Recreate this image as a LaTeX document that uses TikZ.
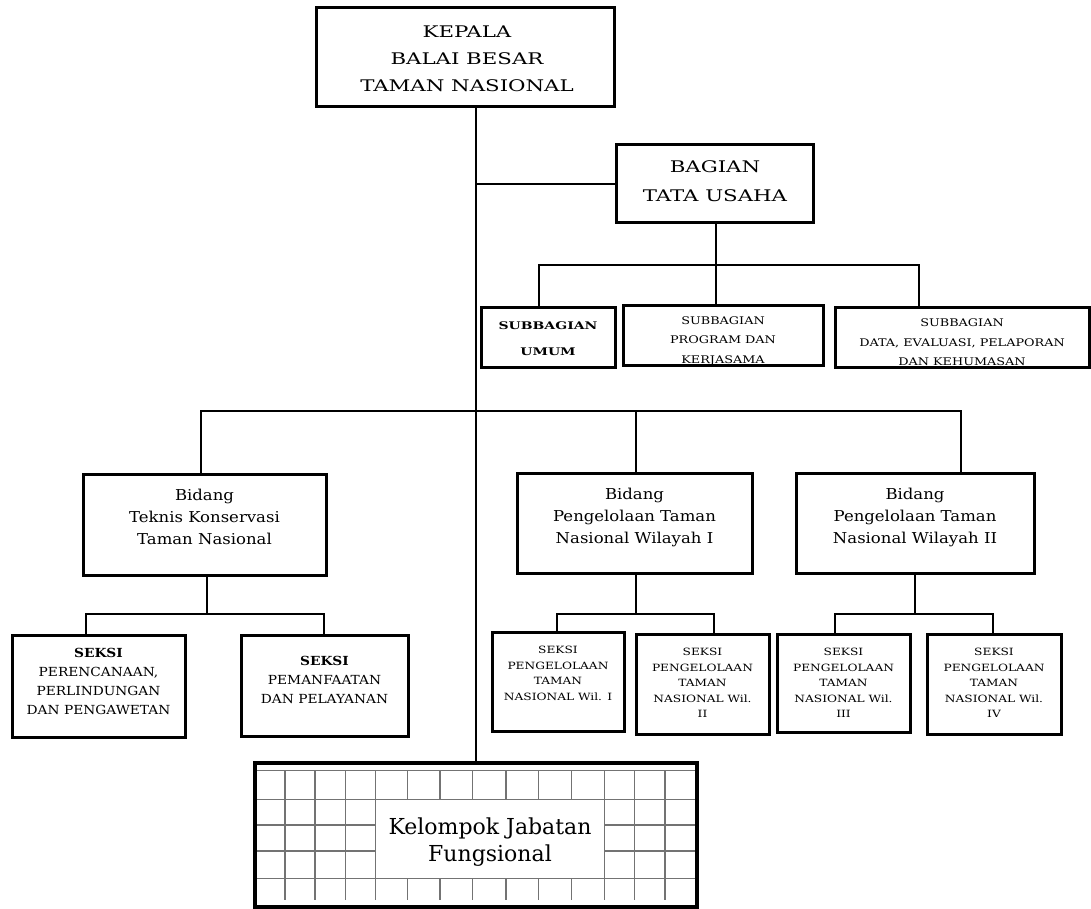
\documentclass[tikz,border=0pt]{standalone}
\usepackage{fontspec}
\setmainfont{DejaVu Serif}
\newfontfamily\fA{DejaVu Serif}[FakeStretch=1.33]
\newfontfamily\fB{DejaVu Serif}[FakeStretch=1.1]
\newfontfamily\fC{DejaVu Serif}[FakeStretch=1.22]
\begin{document}
\begin{tikzpicture}[x=1pt,y=-1pt,
  box/.style={draw, line width=3pt, inner sep=0pt},
  kelbox/.style={draw, line width=4.5pt, inner sep=0pt},
  conn/.style={line width=2.5pt},
  gridl/.style={line width=1.1pt, black!55},
  tx/.style={align=center, inner sep=0pt},
  big/.style={tx, font={\fA\fontsize{16}{27}\selectfont}},
  subb/.style={tx, font={\fC\fontsize{10.5}{19.5}\selectfont}},
  bid/.style={tx, anchor=north, font={\fB\fontsize{15}{22}\selectfont}},
  seks/.style={tx, anchor=north, font={\fB\fontsize{12.5}{19}\selectfont}},
  sekw/.style={tx, anchor=north, font={\fC\fontsize{10}{15.5}\selectfont}}]
\useasboundingbox (0,0) rectangle (1091,909);

% top
\node[box, minimum width=298, minimum height=99] (kepala) at (465,57.5) {};
\node[big] (kepT) at (467,59) {KEPALA\\BALAI BESAR\\TAMAN NASIONAL};
\node[box, minimum width=197, minimum height=78] (bagian) at (714.5,184) {};
\node[tx, font={\fA\fontsize{16}{28.4}\selectfont}] (bagT) at (715,181) {BAGIAN\\TATA USAHA};

% subbagian
\node[box, minimum width=134, minimum height=60] (umum) at (548,337) {};
\node[tx, font={\fA\bfseries\fontsize{10.5}{25.7}\selectfont}] (umT) at (548,339) {SUBBAGIAN\\UMUM};
\node[box, minimum width=200, minimum height=60] (prog) at (723,335) {};
\node[subb] (progT) at (723,341) {SUBBAGIAN\\PROGRAM DAN\\KERJASAMA};
\node[box, minimum width=254, minimum height=60] (data) at (962,337) {};
\node[subb] (dataT) at (962,342.5) {SUBBAGIAN\\DATA, EVALUASI, PELAPORAN\\DAN KEHUMASAN};

% bidang
\node[box, minimum width=243, minimum height=101] (teknis) at (204.5,524.5) {};
\node[bid] (tekT) at (204.5,488.5) {Bidang\\Teknis Konservasi\\Taman Nasional};
\node[box, minimum width=235, minimum height=100] (wil1) at (634.5,523) {};
\node[bid] (wil1T) at (634.5,488) {Bidang\\Pengelolaan Taman\\Nasional Wilayah I};
\node[box, minimum width=238, minimum height=100] (wil2) at (915,523) {};
\node[bid] (wil2T) at (915,488) {Bidang\\Pengelolaan Taman\\Nasional Wilayah II};

% seksi teknis
\node[box, minimum width=173, minimum height=102] (sP) at (98.5,686) {};
\node[seks] (sPT) at (98.5,648) {{\bfseries SEKSI}\\PERENCANAAN,\\PERLINDUNGAN\\DAN PENGAWETAN};
\node[box, minimum width=167, minimum height=101] (sM) at (324.5,686) {};
\node[seks] (sMT) at (324.5,656) {{\bfseries SEKSI}\\PEMANFAATAN\\DAN PELAYANAN};

% seksi wilayah
\node[box, minimum width=132, minimum height=99] (s1) at (558,681.5) {};
\node[sekw] (s1T) at (558,646) {SEKSI\\PENGELOLAAN\\TAMAN\\NASIONAL Wil. I};
\node[box, minimum width=133, minimum height=100] (s2) at (702.5,684) {};
\node[sekw] (s2T) at (702.5,648) {SEKSI\\PENGELOLAAN\\TAMAN\\NASIONAL Wil.\\II};
\node[box, minimum width=133, minimum height=98] (s3) at (843.5,683) {};
\node[sekw] (s3T) at (843.5,648) {SEKSI\\PENGELOLAAN\\TAMAN\\NASIONAL Wil.\\III};
\node[box, minimum width=134, minimum height=100] (s4) at (994,684) {};
\node[sekw] (s4T) at (994,648) {SEKSI\\PENGELOLAAN\\TAMAN\\NASIONAL Wil.\\IV};

% kelompok grid
\foreach \yy in {770.7,799.3,878.3} \draw[gridl] (257,\yy) -- (695,\yy);
\foreach \yy in {825,851} {\draw[gridl] (257,\yy) -- (375.7,\yy); \draw[gridl] (604.3,\yy) -- (695,\yy);}
\foreach \xx in {285,315,345.7,375.7,604.3,634.3,665} \draw[gridl] (\xx,770.7) -- (\xx,900);
\foreach \xx in {407.7,440,472.7,506,538.7,571.7} {\draw[gridl] (\xx,770.7) -- (\xx,799.3); \draw[gridl] (\xx,878.3) -- (\xx,900);}
\node[kelbox, minimum width=442, minimum height=144] (kel) at (476,835) {};
\node[tx, font={\fontsize{22}{27}\selectfont}] (kelT) at (490,842) {Kelompok Jabatan\\Fungsional};

% junctions
\coordinate (jTU) at (716,265);
\coordinate (jU) at (539,265);
\coordinate (jD) at (919,265);
\coordinate (jT) at (201,411);
\coordinate (jW1) at (636,411);
\coordinate (jW2) at (961,411);
\coordinate (tB) at (207,614);
\coordinate (tL) at (86,614);
\coordinate (tR) at (324,614);
\coordinate (aB) at (636,614);
\coordinate (aL) at (557,614);
\coordinate (aR) at (714,614);
\coordinate (bB) at (915,614);
\coordinate (bL) at (835,614);
\coordinate (bR) at (993,614);

% connectors
\draw[conn] (kel.north |- kepala.south) -- (kel.north);
\draw[conn] (bagian.west) -- (bagian.west -| kel.north);
\draw[conn] (bagian.south -| jTU) -- (jTU);
\draw[conn] (umum.north -| jU) -- (jU) -- (jD) -- (data.north -| jD);
\draw[conn] (jTU) -- (prog.north -| jTU);
\draw[conn] (teknis.north -| jT) -- (jT) -- (jW2) -- (wil2.north -| jW2);
\draw[conn] (jW1) -- (wil1.north -| jW1);
\draw[conn] (teknis.south -| tB) -- (tB);
\draw[conn] (sP.north -| tL) -- (tL) -- (tR) -- (sM.north -| tR);
\draw[conn] (wil1.south -| aB) -- (aB);
\draw[conn] (s1.north -| aL) -- (aL) -- (aR) -- (s2.north -| aR);
\draw[conn] (wil2.south -| bB) -- (bB);
\draw[conn] (s3.north -| bL) -- (bL) -- (bR) -- (s4.north -| bR);
\end{tikzpicture}
\end{document}
